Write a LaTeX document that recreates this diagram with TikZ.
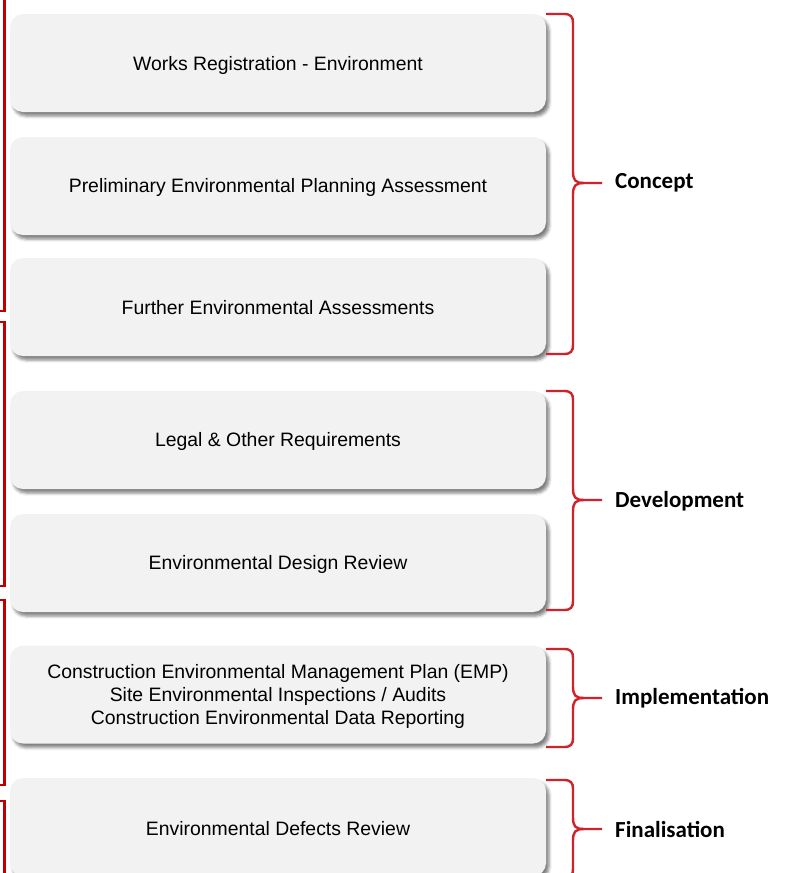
\documentclass[tikz,border=0pt]{standalone}
\usepackage{fontspec}
\setmainfont{Liberation Sans}
\newfontfamily\labfont{Carlito}
\usetikzlibrary{shadows.blur}
\definecolor{boxfill}{HTML}{F2F2F2}
\definecolor{leftred}{HTML}{C00000}
\definecolor{bracered}{HTML}{D0222B}
\tikzset{
  stagebox/.style={rounded corners=13pt, fill=boxfill, draw=none,
    blur shadow={shadow xshift=3pt, shadow yshift=-4pt, shadow blur radius=3pt, shadow opacity=50},
    minimum width=536pt, minimum height=98pt, inner sep=0pt},
  stagetext/.style={inner sep=0pt, align=center, font=\fontsize{19.4}{23}\selectfont},
  phase/.style={anchor=west, inner sep=0pt, font=\labfont\bfseries\fontsize{23}{27}\selectfont},
  leftline/.style={draw=leftred, line width=2.5pt},
  bracel/.style={draw=bracered, line width=2.4pt, line cap=butt}
}
\newcommand{\brc}[3]{% top, mid, bottom (y down)
  \draw[bracel] (546,#1) -- (564,#1) .. controls (571,#1) and (573,#1+3) .. (573,#1+9)
     -- (573,#2-12) .. controls (573,#2-3) and (575,#2) .. (584,#2) -- (602,#2);
  \draw[bracel] (546,#3) -- (564,#3) .. controls (571,#3) and (573,#3-3) .. (573,#3-9)
     -- (573,#2+12) .. controls (573,#2+3) and (575,#2) .. (584,#2);
}
\begin{document}
\begin{tikzpicture}[x=1pt, y=-1pt]
\useasboundingbox (0,0) rectangle (787,873);
% left cropped brackets
\draw[leftline] (4.5,-5) -- (4.5,311) -- (-5,311);
\draw[leftline] (-5,322) -- (4.5,322) -- (4.5,586) -- (-5,586);
\draw[leftline] (-5,600) -- (4.5,600) -- (4.5,785) -- (-5,785);
\draw[leftline] (-5,801) -- (4.5,801) -- (4.5,880);
% boxes
\node[stagebox] (b1) at (278,63) {};
\node[stagetext] (t1) at (278,65) {Works Registration - Environment};
\node[stagebox] (b2) at (278,186) {};
\node[stagetext] (t2) at (278,187) {Preliminary Environmental Planning Assessment};
\node[stagebox] (b3) at (278,307) {};
\node[stagetext] (t3) at (278,308) {Further Environmental Assessments};
\node[stagebox] (b4) at (278,440) {};
\node[stagetext] (t4) at (278,441) {Legal \& Other Requirements};
\node[stagebox] (b5) at (278,563) {};
\node[stagetext] (t5) at (278,564) {Environmental Design Review};
\node[stagebox] (b6) at (278,694.5) {};
\node[stagetext] (t6) at (278,696) {Construction Environmental Management Plan (EMP)\\
Site Environmental Inspections / Audits\\
Construction Environmental Data Reporting};
\node[stagebox] (b7) at (278,827) {};
\node[stagetext] (t7) at (278,829) {Environmental Defects Review};
% braces
\brc{14}{183}{354}
\brc{391}{500}{610}
\brc{649}{698}{747}
\brc{780}{829}{878}
% phase labels
\node[phase] (p1) at (615,183) {Concept};
\node[phase] (p2) at (615,501) {Development};
\node[phase] (p3) at (615,698) {Implementation};
\node[phase] (p4) at (615,829) {Finalisation};
\end{tikzpicture}
\end{document}
